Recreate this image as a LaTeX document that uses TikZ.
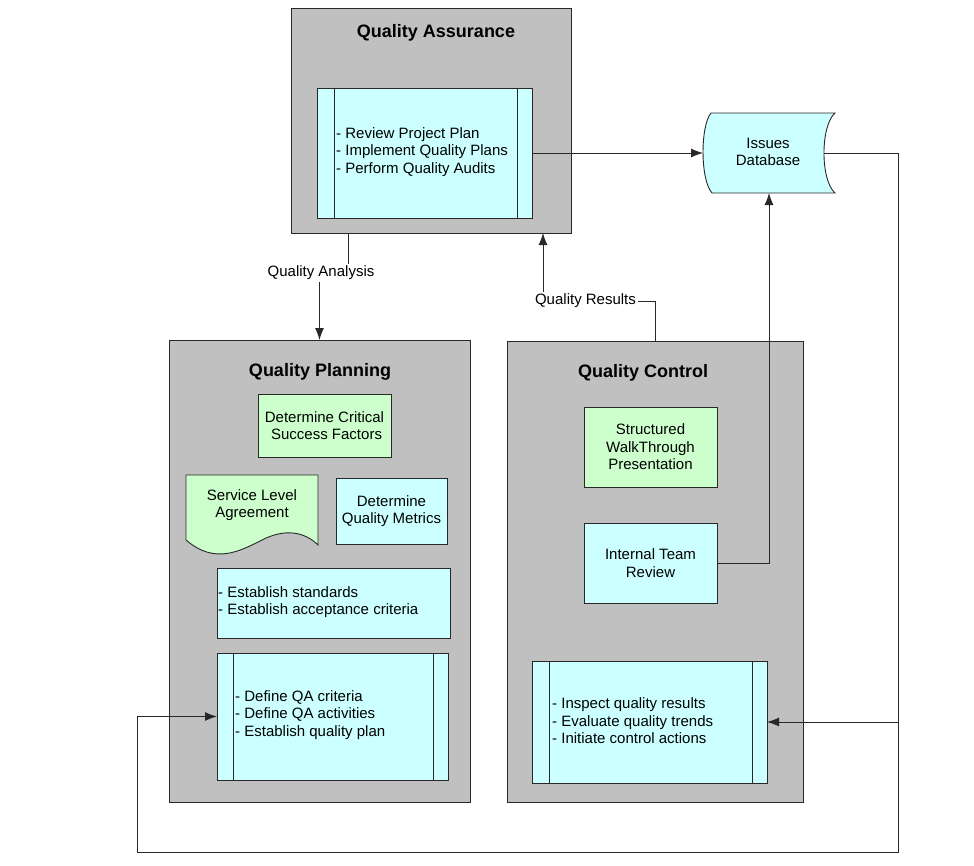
\documentclass[tikz,border=0pt]{standalone}
\usepackage{fontspec}
\setmainfont{Liberation Sans}
\usetikzlibrary{arrows.meta}
\definecolor{grayfill}{RGB}{192,192,192}
\definecolor{cyanfill}{RGB}{204,255,255}
\definecolor{greenfill}{RGB}{204,255,204}
\definecolor{edge}{RGB}{40,40,40}
\tikzset{
  box/.style={draw=edge, line width=0.9pt, inner sep=0pt, outer sep=0pt, rectangle},
  container/.style={box, fill=grayfill},
  cyanbox/.style={box, fill=cyanfill, align=center, font=\fontsize{15}{17.5}\selectfont},
  greenbox/.style={box, fill=greenfill, align=center, font=\fontsize{15}{17.5}\selectfont},
  title/.style={font=\fontsize{18}{21}\selectfont\bfseries, inner sep=0pt},
  txt/.style={font=\fontsize{15}{17.5}\selectfont, align=left, inner sep=0pt, anchor=west},
  lbl/.style={font=\fontsize{15}{17.5}\selectfont, fill=white, inner sep=2pt},
  conn/.style={draw=edge, line width=0.9pt},
  arr/.style={conn, -{Latex[length=12pt,width=9pt]}}
}
\begin{document}
\begin{tikzpicture}[x=1pt,y=-1pt]
\useasboundingbox (0,0) rectangle (974,865);

% Quality Assurance
\node[container, minimum width=280, minimum height=225] (qa) at (431,120.5) {};
\node[title] (qat) at (436,33) {Quality Assurance};
\node[box, fill=cyanfill, minimum width=215, minimum height=130] (qai) at (424.5,153) {};
\draw[conn] ([xshift=17]qai.north west) -- ([xshift=17]qai.south west);
\draw[conn] ([xshift=-15]qai.north east) -- ([xshift=-15]qai.south east);
\node[txt] (qaitxt) at (336,152) {- Review Project Plan\\- Implement Quality Plans\\- Perform Quality Audits};

% Issues Database
\node[minimum width=132, minimum height=80, inner sep=0pt, outer sep=0pt] (isd) at (769,153) {};
\draw[draw=edge, line width=0.9pt, fill=cyanfill]
  (711,113) -- (835,113) .. controls (820.3,126) and (820.3,180) .. (835,193)
  -- (712,193) .. controls (700.2,180) and (700.2,126) .. (711,113) -- cycle;
\node[font=\fontsize{15}{17.5}\selectfont, align=center] (isdtxt) at (768,152) {Issues\\Database};

% Quality Planning
\node[container, minimum width=301, minimum height=462] (qp) at (319.5,571) {};
\node[title] (qpt) at (320,372) {Quality Planning};
\node[greenbox, minimum width=133, minimum height=63] (csf) at (324.5,425.5) {Determine Critical\\\ Success Factors};
\draw[draw=edge, line width=0.9pt, fill=greenfill]
  (186,475) -- (318,475) -- (318,545)
  .. controls (305,532) and (285,528) .. (262,540)
  .. controls (240,551) and (215,565) .. (186,540) -- cycle;
\node[font=\fontsize{15}{17.5}\selectfont, align=center] (sla) at (252,505) {Service Level\\Agreement};
\node[cyanbox, minimum width=111, minimum height=66] (dqm) at (391.5,511) {Determine\\Quality Metrics};
\node[box, fill=cyanfill, minimum width=233, minimum height=70] (est) at (333.5,603) {};
\node[txt] (esttxt) at (218,602) {- Establish standards\\- Establish acceptance criteria};
\node[box, fill=cyanfill, minimum width=231, minimum height=127] (qpi) at (332.5,716.5) {};
\draw[conn] ([xshift=16]qpi.north west) -- ([xshift=16]qpi.south west);
\draw[conn] ([xshift=-15]qpi.north east) -- ([xshift=-15]qpi.south east);
\node[txt] (qpitxt) at (235,715) {- Define QA criteria\\- Define QA activities\\- Establish quality plan};

% Quality Control
\node[container, minimum width=296, minimum height=461] (qc) at (655,571.5) {};
\node[title] (qct) at (643,373) {Quality Control};
\node[greenbox, minimum width=133, minimum height=80] (sw) at (650.5,447) {Structured\\WalkThrough\\Presentation};
\node[cyanbox, minimum width=133, minimum height=80] (itr) at (650.5,563) {Internal Team\\Review};
\node[box, fill=cyanfill, minimum width=235, minimum height=122] (qci) at (649.5,722) {};
\draw[conn] ([xshift=17]qci.north west) -- ([xshift=17]qci.south west);
\draw[conn] ([xshift=-15]qci.north east) -- ([xshift=-15]qci.south east);
\node[txt] (qcitxt) at (552,721) {- Inspect quality results\\- Evaluate quality trends\\- Initiate control actions};

% Connectors
\draw[arr] ([xshift=-83]qa.south) -- ++(0,40) -| (qp.north);
\node[lbl] (qal) at (321,273) {Quality Analysis};
\draw[arr] (qc.north) -- ++(0,-40) -| ([xshift=112]qa.south);
\node[lbl] (qrl) at (585.5,301) {Quality Results};
\draw[arr] (qai.east) -- (isd.west);
\draw[arr] (itr.east) -| (isd.south);
\coordinate (rt) at (898,153);
\coordinate (br) at (898,852);
\coordinate (bl) at (137,852);
\draw[arr] ([xshift=-11]isd.east) -- (rt) |- (qci.east);
\draw[arr] (rt) -- (br) -- (bl) |- (qpi.west);
\end{tikzpicture}
\end{document}
